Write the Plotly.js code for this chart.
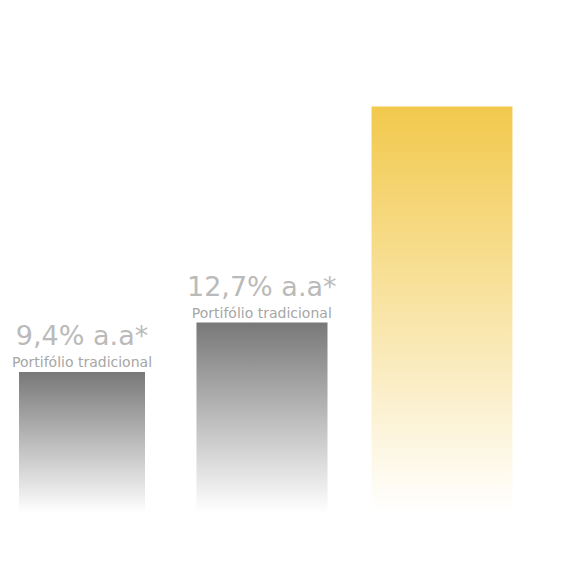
<!DOCTYPE html>
<html>
<head>
<meta charset="utf-8">
<script src="https://cdn.plot.ly/plotly-3.0.1.min.js"></script>
<style>html,body{margin:0;padding:0;background:#fff;}#chart{width:564px;height:584px;}</style>
</head>
<body>
<div id="chart"></div>
<script>
// Data
var categories = [0, 1, 2];
var barValues = [9.4, 12.7, 27.1];
var rateLabels = ['9,4% a.a*', '12,7% a.a*', ''];
var subLabels = ['Portifólio tradicional', 'Portifólio tradicional', ''];

// Styles
var barWidths = [0.70, 0.728, 0.783];
var topColors = ['#787878', '#787878', '#f2c94c'];

var traces = categories.map(function (c, i) {
  var half = barWidths[i] / 2;
  return {
    type: 'scatter',
    mode: 'none',
    x: [c - half, c + half],
    y: [barValues[i], barValues[i]],
    fill: 'tozeroy',
    fillgradient: {
      type: 'vertical',
      start: 0,
      stop: barValues[i],
      colorscale: [[0, '#ffffff'], [1, topColors[i]]]
    },
    hoverinfo: 'skip',
    showlegend: false
  };
});

var annotations = [];
categories.forEach(function (c, i) {
  if (!rateLabels[i]) return;
  annotations.push({
    x: c, y: barValues[i], xref: 'x', yref: 'y',
    text: '<span style="font-size:27px;color:#bababa">' + rateLabels[i] + '</span><br>' +
          '<span style="font-size:14px;color:#a6a6a6">' + subLabels[i] + '</span>',
    showarrow: false,
    yanchor: 'bottom', yshift: 1, borderpad: 0,
    font: {family: 'DejaVu Sans, sans-serif', size: 17, color: '#a6a6a6'}
  });
});

var layout = {
  width: 564, height: 584,
  margin: {l: 0, r: 0, t: 63, b: 71, pad: 0},
  paper_bgcolor: '#ffffff', plot_bgcolor: '#ffffff',
  xaxis: {range: [-0.4556, 2.678], visible: false, fixedrange: true},
  yaxis: {range: [0, 30], visible: false, fixedrange: true},
  annotations: annotations,
  showlegend: false
};

Plotly.newPlot('chart', traces, layout, {displayModeBar: false, staticPlot: true});
</script>
</body>
</html>
